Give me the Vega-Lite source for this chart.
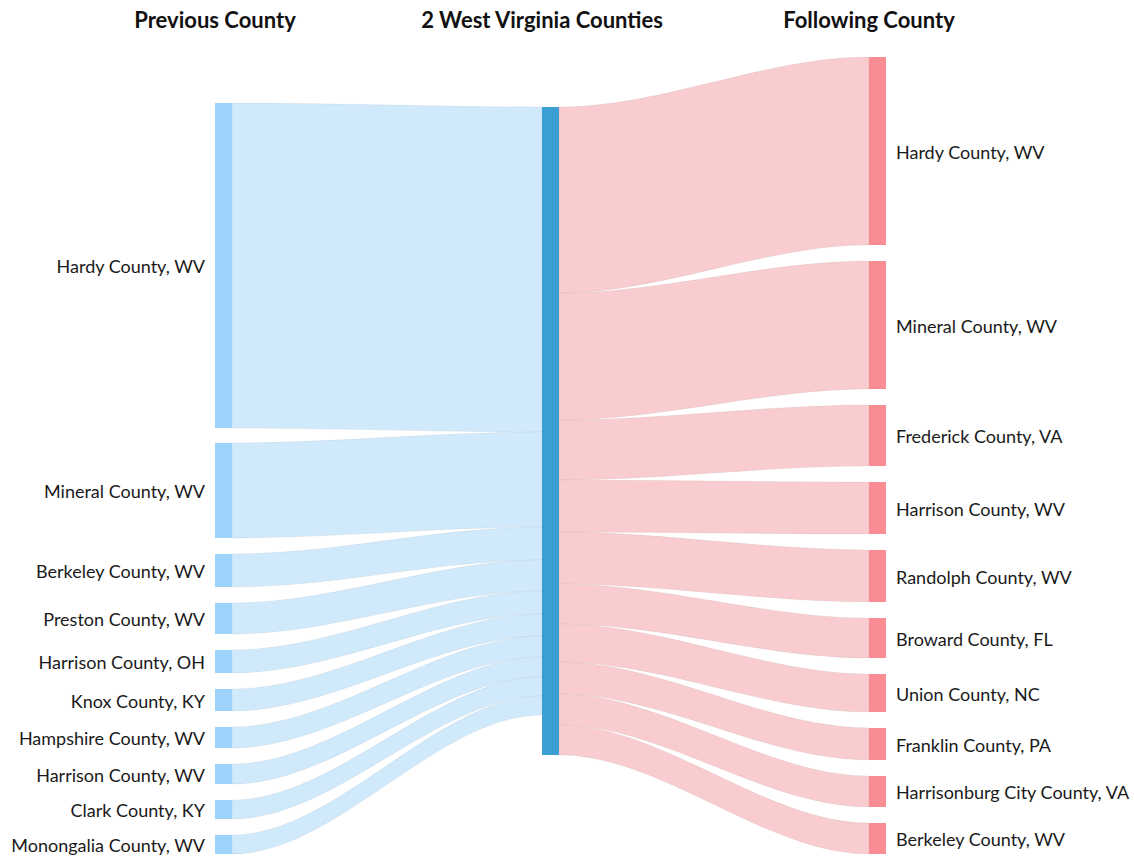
{
  "$schema": "https://vega.github.io/schema/vega-lite/v6.json",
  "width": 1134,
  "height": 858,
  "autosize": {"type": "fit", "contains": "padding"},
  "padding": 0,
  "config": {"view": {"stroke": null}, "font": "Lato"},
  "datasets": {
    "nodes": [
      {"stage": 0, "g": "L", "name": "Hardy County, WV", "y0": 103, "y1": 428},
      {"stage": 0, "g": "L", "name": "Mineral County, WV", "y0": 443, "y1": 538},
      {"stage": 0, "g": "L", "name": "Berkeley County, WV", "y0": 554, "y1": 587},
      {"stage": 0, "g": "L", "name": "Preston County, WV", "y0": 603, "y1": 634},
      {"stage": 0, "g": "L", "name": "Harrison County, OH", "y0": 650, "y1": 673},
      {"stage": 0, "g": "L", "name": "Knox County, KY", "y0": 689, "y1": 711},
      {"stage": 0, "g": "L", "name": "Hampshire County, WV", "y0": 727, "y1": 748},
      {"stage": 0, "g": "L", "name": "Harrison County, WV", "y0": 764, "y1": 784},
      {"stage": 0, "g": "L", "name": "Clark County, KY", "y0": 800, "y1": 819},
      {"stage": 0, "g": "L", "name": "Monongalia County, WV", "y0": 835, "y1": 854},
      {"stage": 1, "g": "M", "name": "2 West Virginia Counties", "y0": 107, "y1": 755},
      {"stage": 2, "g": "R", "name": "Hardy County, WV", "y0": 57, "y1": 245},
      {"stage": 2, "g": "R", "name": "Mineral County, WV", "y0": 261, "y1": 389},
      {"stage": 2, "g": "R", "name": "Frederick County, VA", "y0": 405, "y1": 466},
      {"stage": 2, "g": "R", "name": "Harrison County, WV", "y0": 482, "y1": 534},
      {"stage": 2, "g": "R", "name": "Randolph County, WV", "y0": 550, "y1": 602},
      {"stage": 2, "g": "R", "name": "Broward County, FL", "y0": 618, "y1": 658},
      {"stage": 2, "g": "R", "name": "Union County, NC", "y0": 674, "y1": 712},
      {"stage": 2, "g": "R", "name": "Franklin County, PA", "y0": 728, "y1": 760},
      {"stage": 2, "g": "R", "name": "Harrisonburg City County, VA", "y0": 776, "y1": 807},
      {"stage": 2, "g": "R", "name": "Berkeley County, WV", "y0": 823, "y1": 854}
    ],
    "headers": [
      {"stage": 0, "text": "Previous County"},
      {"stage": 1, "text": "2 West Virginia Counties"},
      {"stage": 2, "text": "Following County"}
    ],
    "links": [
      {"l": "in1", "g": "in", "x": 0.052, "t": 103, "b": 428},
      {"l": "in1", "g": "in", "x": 0.053, "t": 103, "b": 428},
      {"l": "in1", "g": "in", "x": 0.999, "t": 107, "b": 432},
      {"l": "in1", "g": "in", "x": 1.0, "t": 107, "b": 432},
      {"l": "in2", "g": "in", "x": 0.052, "t": 443, "b": 538},
      {"l": "in2", "g": "in", "x": 0.053, "t": 443, "b": 538},
      {"l": "in2", "g": "in", "x": 0.999, "t": 432, "b": 527},
      {"l": "in2", "g": "in", "x": 1.0, "t": 432, "b": 527},
      {"l": "in3", "g": "in", "x": 0.052, "t": 554, "b": 587},
      {"l": "in3", "g": "in", "x": 0.053, "t": 554, "b": 587},
      {"l": "in3", "g": "in", "x": 0.999, "t": 527, "b": 560},
      {"l": "in3", "g": "in", "x": 1.0, "t": 527, "b": 560},
      {"l": "in4", "g": "in", "x": 0.052, "t": 603, "b": 634},
      {"l": "in4", "g": "in", "x": 0.053, "t": 603, "b": 634},
      {"l": "in4", "g": "in", "x": 0.999, "t": 560, "b": 591},
      {"l": "in4", "g": "in", "x": 1.0, "t": 560, "b": 591},
      {"l": "in5", "g": "in", "x": 0.052, "t": 650, "b": 673},
      {"l": "in5", "g": "in", "x": 0.053, "t": 650, "b": 673},
      {"l": "in5", "g": "in", "x": 0.999, "t": 591, "b": 614},
      {"l": "in5", "g": "in", "x": 1.0, "t": 591, "b": 614},
      {"l": "in6", "g": "in", "x": 0.052, "t": 689, "b": 711},
      {"l": "in6", "g": "in", "x": 0.053, "t": 689, "b": 711},
      {"l": "in6", "g": "in", "x": 0.999, "t": 614, "b": 636},
      {"l": "in6", "g": "in", "x": 1.0, "t": 614, "b": 636},
      {"l": "in7", "g": "in", "x": 0.052, "t": 727, "b": 748},
      {"l": "in7", "g": "in", "x": 0.053, "t": 727, "b": 748},
      {"l": "in7", "g": "in", "x": 0.999, "t": 636, "b": 657},
      {"l": "in7", "g": "in", "x": 1.0, "t": 636, "b": 657},
      {"l": "in8", "g": "in", "x": 0.052, "t": 764, "b": 784},
      {"l": "in8", "g": "in", "x": 0.053, "t": 764, "b": 784},
      {"l": "in8", "g": "in", "x": 0.999, "t": 657, "b": 677},
      {"l": "in8", "g": "in", "x": 1.0, "t": 657, "b": 677},
      {"l": "in9", "g": "in", "x": 0.052, "t": 800, "b": 819},
      {"l": "in9", "g": "in", "x": 0.053, "t": 800, "b": 819},
      {"l": "in9", "g": "in", "x": 0.999, "t": 677, "b": 696},
      {"l": "in9", "g": "in", "x": 1.0, "t": 677, "b": 696},
      {"l": "in10", "g": "in", "x": 0.052, "t": 835, "b": 854},
      {"l": "in10", "g": "in", "x": 0.053, "t": 835, "b": 854},
      {"l": "in10", "g": "in", "x": 0.999, "t": 696, "b": 715},
      {"l": "in10", "g": "in", "x": 1.0, "t": 696, "b": 715},
      {"l": "out1", "g": "out", "x": 1.052, "t": 107, "b": 293},
      {"l": "out1", "g": "out", "x": 1.053, "t": 107, "b": 293},
      {"l": "out1", "g": "out", "x": 1.999, "t": 57, "b": 245},
      {"l": "out1", "g": "out", "x": 2.0, "t": 57, "b": 245},
      {"l": "out2", "g": "out", "x": 1.052, "t": 293, "b": 420},
      {"l": "out2", "g": "out", "x": 1.053, "t": 293, "b": 420},
      {"l": "out2", "g": "out", "x": 1.999, "t": 261, "b": 389},
      {"l": "out2", "g": "out", "x": 2.0, "t": 261, "b": 389},
      {"l": "out3", "g": "out", "x": 1.052, "t": 420, "b": 480},
      {"l": "out3", "g": "out", "x": 1.053, "t": 420, "b": 480},
      {"l": "out3", "g": "out", "x": 1.999, "t": 405, "b": 466},
      {"l": "out3", "g": "out", "x": 2.0, "t": 405, "b": 466},
      {"l": "out4", "g": "out", "x": 1.052, "t": 480, "b": 532},
      {"l": "out4", "g": "out", "x": 1.053, "t": 480, "b": 532},
      {"l": "out4", "g": "out", "x": 1.999, "t": 482, "b": 534},
      {"l": "out4", "g": "out", "x": 2.0, "t": 482, "b": 534},
      {"l": "out5", "g": "out", "x": 1.052, "t": 532, "b": 584},
      {"l": "out5", "g": "out", "x": 1.053, "t": 532, "b": 584},
      {"l": "out5", "g": "out", "x": 1.999, "t": 550, "b": 602},
      {"l": "out5", "g": "out", "x": 2.0, "t": 550, "b": 602},
      {"l": "out6", "g": "out", "x": 1.052, "t": 584, "b": 624},
      {"l": "out6", "g": "out", "x": 1.053, "t": 584, "b": 624},
      {"l": "out6", "g": "out", "x": 1.999, "t": 618, "b": 658},
      {"l": "out6", "g": "out", "x": 2.0, "t": 618, "b": 658},
      {"l": "out7", "g": "out", "x": 1.052, "t": 624, "b": 662},
      {"l": "out7", "g": "out", "x": 1.053, "t": 624, "b": 662},
      {"l": "out7", "g": "out", "x": 1.999, "t": 674, "b": 712},
      {"l": "out7", "g": "out", "x": 2.0, "t": 674, "b": 712},
      {"l": "out8", "g": "out", "x": 1.052, "t": 662, "b": 694},
      {"l": "out8", "g": "out", "x": 1.053, "t": 662, "b": 694},
      {"l": "out8", "g": "out", "x": 1.999, "t": 728, "b": 760},
      {"l": "out8", "g": "out", "x": 2.0, "t": 728, "b": 760},
      {"l": "out9", "g": "out", "x": 1.052, "t": 694, "b": 725},
      {"l": "out9", "g": "out", "x": 1.053, "t": 694, "b": 725},
      {"l": "out9", "g": "out", "x": 1.999, "t": 776, "b": 807},
      {"l": "out9", "g": "out", "x": 2.0, "t": 776, "b": 807},
      {"l": "out10", "g": "out", "x": 1.052, "t": 725, "b": 755},
      {"l": "out10", "g": "out", "x": 1.053, "t": 725, "b": 755},
      {"l": "out10", "g": "out", "x": 1.999, "t": 823, "b": 854},
      {"l": "out10", "g": "out", "x": 2.0, "t": 823, "b": 854}
    ]
  },
  "layer": [
    {
      "data": {"name": "links"},
      "mark": {"type": "area", "interpolate": "monotone", "orient": "vertical", "stroke": "#000000", "strokeOpacity": 0.05, "strokeWidth": 1},
      "encoding": {
        "x": {"field": "x", "type": "quantitative", "scale": {"domain": [-0.6575, 2.8104], "nice": false, "zero": false}, "axis": null},
        "y": {"field": "t", "type": "quantitative", "stack": null, "scale": {"domain": [0, 858], "reverse": true, "nice": false, "zero": false}, "axis": null},
        "y2": {"field": "b"},
        "detail": {"field": "l", "type": "nominal"},
        "color": {"field": "g", "type": "nominal", "scale": {"domain": ["in", "out", "L", "M", "R"], "range": ["#d0eafc", "#f9cdd0", "#9dd3fa", "#3aa0d3", "#f88e94"]}, "legend": null}
      }
    },
    {
      "data": {"name": "nodes"},
      "transform": [
        {"calculate": "datum.stage", "as": "xa"},
        {"calculate": "datum.stage + 0.052", "as": "xb"}
      ],
      "mark": {"type": "rect"},
      "encoding": {
        "x": {"field": "xa", "type": "quantitative", "scale": {"domain": [-0.6575, 2.8104], "nice": false, "zero": false}, "axis": null},
        "x2": {"field": "xb"},
        "y": {"field": "y0", "type": "quantitative", "scale": {"domain": [0, 858], "reverse": true, "nice": false, "zero": false}, "axis": null},
        "y2": {"field": "y1"},
        "color": {"field": "g", "type": "nominal", "legend": null}
      }
    },
    {
      "data": {"name": "nodes"},
      "transform": [
        {"filter": "datum.stage == 0"},
        {"calculate": "(datum.y0 + datum.y1) / 2", "as": "ym"}
      ],
      "mark": {"type": "text", "align": "right", "baseline": "middle", "dx": -10, "dy": 2.5, "fontSize": 18, "font": "Lato", "color": "#1a1a1a"},
      "encoding": {
        "x": {"field": "stage", "type": "quantitative"},
        "y": {"field": "ym", "type": "quantitative"},
        "text": {"field": "name"}
      }
    },
    {
      "data": {"name": "nodes"},
      "transform": [
        {"filter": "datum.stage == 2"},
        {"calculate": "(datum.y0 + datum.y1) / 2", "as": "ym"},
        {"calculate": "datum.stage + 0.052", "as": "xb"}
      ],
      "mark": {"type": "text", "align": "left", "baseline": "middle", "dx": 10, "dy": 2.5, "fontSize": 18, "font": "Lato", "color": "#1a1a1a"},
      "encoding": {
        "x": {"field": "xb", "type": "quantitative"},
        "y": {"field": "ym", "type": "quantitative"},
        "text": {"field": "name"}
      }
    },
    {
      "data": {"name": "headers"},
      "mark": {"type": "text", "align": "center", "baseline": "middle", "fontSize": 22, "fontWeight": "bold", "font": "Lato", "color": "#111111"},
      "encoding": {
        "x": {"field": "stage", "type": "quantitative"},
        "y": {"datum": 21, "type": "quantitative"},
        "text": {"field": "text"}
      }
    }
  ]
}
